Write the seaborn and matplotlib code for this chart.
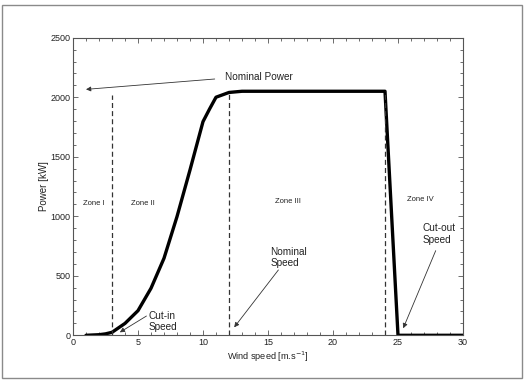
import matplotlib
matplotlib.use("Agg")
import matplotlib.pyplot as plt
import seaborn as sns
import pandas as pd
from matplotlib.patches import Rectangle
from matplotlib.ticker import MultipleLocator

wind_speed = [1, 2, 2.5, 3, 4, 5, 6, 7, 8, 9, 10, 10.5, 11, 12, 13, 24, 25, 30]
power_kw = [0, 5, 12, 25, 100, 207, 395, 647, 997, 1389, 1795, 1900, 2000, 2040, 2050, 2050, 0, 0]

zone_bounds = [3, 12, 24]
zone_tops = [2020, 2035, 2050]
zone_labels = ["Zone I", "Zone II", "Zone III", "Zone IV"]
zone_label_x = [1.6, 5.4, 16.5, 26.7]
zone_label_y = [1111, 1111, 1128, 1142]

df = pd.DataFrame({"wind": wind_speed, "power": power_kw})

sns.set_style("white")
plt.rcParams["font.family"] = ["Liberation Sans", "DejaVu Sans"]

fig = plt.figure(figsize=(5.25, 3.8), dpi=100)
ax = fig.add_axes([73/525, 1 - 335.3/380, 390/525, 297.6/380])

fig.patches.append(Rectangle((2/525, 1 - 378/380), 519.5/525, 373/380,
                             transform=fig.transFigure, fill=False,
                             edgecolor="#8a8a8a", linewidth=1.0))

sns.lineplot(data=df, x="wind", y="power", ax=ax, color="black", linewidth=2.4,
             sort=False, estimator=None)

for xb, yt in zip(zone_bounds, zone_tops):
    ax.plot([xb, xb], [0, yt], color="#333333", linestyle=(0, (4, 2.5)), linewidth=0.9)

for lab, lx, ly in zip(zone_labels, zone_label_x, zone_label_y):
    ax.text(lx, ly, lab, ha="center", va="center", fontsize=5.5, color="#222222")

arrowprops = dict(arrowstyle="-|>", color="#333333", lw=0.6, mutation_scale=7,
                  shrinkA=0, shrinkB=0)
fs = 7.2
ax.annotate("", xy=(1.0, 2066), xytext=(10.9, 2153), arrowprops=arrowprops)
ax.text(11.7, 2167, "Nominal Power", fontsize=fs, va="center", ha="left", color="#222222")

ax.annotate("", xy=(3.6, 25), xytext=(5.65, 162), arrowprops=arrowprops)
ax.text(5.8, 115, "Cut-in\nSpeed", fontsize=fs, va="center", ha="left", color="#222222",
        linespacing=1.15)

ax.annotate("", xy=(12.4, 67), xytext=(15.8, 549), arrowprops=arrowprops)
ax.text(15.2, 652, "Nominal\nSpeed", fontsize=fs, va="center", ha="left", color="#222222",
        linespacing=1.15)

ax.annotate("", xy=(25.4, 59), xytext=(27.9, 711), arrowprops=arrowprops)
ax.text(26.9, 851, "Cut-out\nSpeed", fontsize=fs, va="center", ha="left", color="#222222",
        linespacing=1.15)

ax.set_xlim(0, 30)
ax.set_ylim(0, 2500)
ax.xaxis.set_major_locator(MultipleLocator(5))
ax.xaxis.set_minor_locator(MultipleLocator(1))
ax.yaxis.set_major_locator(MultipleLocator(500))
ax.yaxis.set_minor_locator(MultipleLocator(100))
ax.tick_params(which="both", direction="in", top=True, right=True, bottom=True, left=True,
               color="#555555", width=0.6)
ax.tick_params(which="major", length=3.5, labelsize=6.5, labelcolor="#222222", pad=2)
ax.tick_params(which="minor", length=2)
for s in ax.spines.values():
    s.set_color("#555555")
    s.set_linewidth(0.8)

ax.set_xlabel("Wind speed [m.s$^{-1}$]", fontsize=6.6, color="#222222", labelpad=2)
ax.set_ylabel("Power [kW]", fontsize=7, color="#222222", labelpad=1)

fig.savefig("out.png", dpi=100)
